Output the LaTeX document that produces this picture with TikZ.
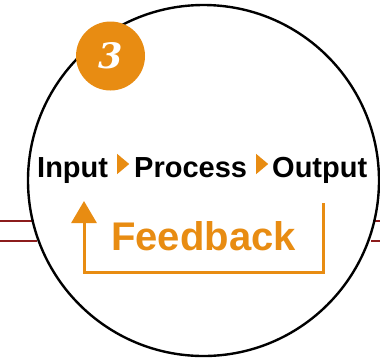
\documentclass[tikz,border=0pt]{standalone}
\usepackage{fontspec}
\setmainfont{Liberation Sans}
\newfontfamily\digitfont{DejaVu Serif}
\usetikzlibrary{arrows.meta,shapes.geometric}
\definecolor{accent}{RGB}{232,140,18}
\definecolor{rail}{RGB}{140,28,28}
\tikzset{
  x=1pt,y=-1pt,
  ring/.style={draw=black,line width=2.4pt},
  railline/.style={draw=rail,line width=2.4pt},
  word/.style={inner sep=0pt,anchor=base west,font=\bfseries\fontsize{29}{30}\selectfont},
  pointer/.style={fill=accent,draw=none,isosceles triangle,isosceles triangle apex angle=80,
    minimum height=12pt,inner sep=0pt,anchor=west},
  loopline/.style={draw=accent,line width=3pt},
  badge/.style={circle,fill=accent,minimum size=69pt,inner sep=0pt,text=white,
    font=\digitfont\bfseries\itshape\fontsize{35}{35}\selectfont},
}
\begin{document}
\begin{tikzpicture}
\useasboundingbox (0,0) rectangle (380,360);
\fill[white] (0,0) rectangle (380,360);

% side rails entering the circle
\coordinate (rl1) at (0,221);
\coordinate (rl2) at (0,241);
\coordinate (rr1) at (380,221);
\coordinate (rr2) at (380,241);
\coordinate (cl1) at (35,221);
\coordinate (cl2) at (37,241);
\coordinate (cr1) at (374,221);
\coordinate (cr2) at (371,241);
\draw[railline] (rl1) -- (cl1);
\draw[railline] (rl2) -- (cl2);
\draw[railline] (cr1) -- (rr1);
\draw[railline] (cr2) -- (rr2);

% main circle
\node[ring,circle,fill=white,minimum size=351pt,inner sep=0pt] (ring) at (203.5,180.5) {};

% step badge
\node[badge] (num) at (110.5,56) {3};

% the three stages
\node[word] (inp) at (37,177) {Input};
\node[pointer] (tri1) at (117,164) {};
\node[word] (proc) at (134,177) {Process};
\node[pointer] (tri2) at (256,164) {};
\node[word] (outp) at (272,177) {Output};

% feedback loop
\node[inner sep=0pt,anchor=base west,text=accent,font=\bfseries\fontsize{40}{41}\selectfont] (fb) at (111,250) {Feedback};
\coordinate (fbstart) at (323,203);
\coordinate (fbend) at (84,201);
\draw[loopline,-{Triangle[length=22pt,width=25pt]}]
  (fbstart) -- (fbstart |- 0,272) -- (fbend |- 0,272) -- (fbend);
\end{tikzpicture}
\end{document}
